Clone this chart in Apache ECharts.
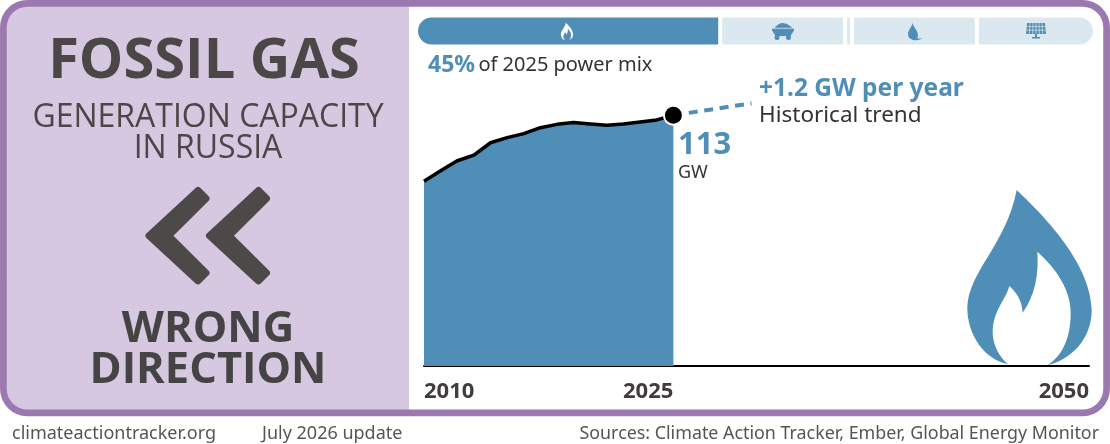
<!DOCTYPE html>
<html><head><meta charset="utf-8">
<style>html,body{margin:0;padding:0;background:#fff}#c{width:1110px;height:444px}</style>
<script src="https://cdn.jsdelivr.net/npm/echarts@6/dist/echarts.min.js"></script></head>
<body><div id="c"></div>
<script>
const years=[2010,2011,2012,2013,2014,2015,2016,2017,2018,2019,2020,2021,2022,2023,2024,2025];
const capacityGW=[83.3,88,92.5,95,100.6,102.9,104.7,107.4,108.9,109.7,109.1,108.5,109.1,110,110.9,113];
const trendYears=[2025,2029.7];
const trendGW=[113,118.4];
const xTicks=[2010,2025,2050];
const mixNames=['Fossil gas','Coal','Other','Hydro','Solar'];
const mixShares=[44.8,18.4,1.0,18.4,17.4];
const BLUE='#4f8fb7',PALE='#dce8f0',DARK='#4b4747',PURPLE='#9b78b0',LILAC='#d6c8e0';
const HEAD='"Open Sans",sans-serif',BODY='"Noto Sans",sans-serif';
const flame='M1016.7 190C1040 212 1091 262 1091.7 310C1091.7 340 1070 360 1047.7 365C1064 355 1070.7 335 1070.7 313C1070.7 285 1050 263 1037.3 251.7C1039 275 1035 295 1022.7 312.7C1022 300 1016 292 1009.3 286C1006 300 992.7 310 992.7 333C992.7 345 1000 358 1008 364C985 360 967.3 335 967.3 308C968 272 1006 245 1016.7 190Z';
const chev=dx=>({type:'polygon',z:3,shape:{points:[[149,235.7],[198,190.5],[206,198.5],[168.5,235.7],[206,272.9],[198,280.9]].map(p=>[p[0]+dx,p[1]])},style:{fill:'#4d4948',stroke:'#4d4948',lineWidth:7,lineJoin:'round'}});
const txt=(x,y,t,size,fill,weight,align,font)=>({type:'text',z:5,x,y,style:{text:t,fontSize:size,fill,fontWeight:weight||400,align:align||'left',verticalAlign:'middle',fontFamily:font||BODY}});
const solarLines=[];
for(let i=1;i<6;i++)solarLines.push({type:'line',z:6,shape:{x1:1027+i*3.0,y1:23,x2:1026+i*3.33,y2:34},style:{stroke:PALE,lineWidth:.7}});
for(let i=1;i<3;i++)solarLines.push({type:'line',z:6,shape:{x1:1026,y1:23+i*3.6,x2:1046,y2:23+i*3.6},style:{stroke:PALE,lineWidth:.7}});
const graphics=[
 {type:'rect',z:-2,silent:true,shape:{x:3,y:3,width:406,height:410,r:[24,0,0,24]},style:{fill:LILAC}},
 {type:'rect',z:10,silent:true,shape:{x:3.4,y:3.4,width:1103.2,height:409.4,r:24},style:{fill:'none',stroke:PURPLE,lineWidth:6.7}},
 txt(204,62,'FOSSIL GAS',56,DARK,700,'center',HEAD),
 txt(208,118,'GENERATION CAPACITY',32,DARK,400,'center',HEAD),
 txt(208,149,'IN RUSSIA',32,DARK,400,'center',HEAD),
 chev(0),chev(60.5),
 txt(208,330,'WRONG',43.5,'#444',700,'center',HEAD),
 txt(208,371,'DIRECTION',43.5,'#444',700,'center',HEAD),
 txt(12,434,'climateactiontracker.org',18,'#555'),
 txt(262,434,'July 2026 update',18,'#555'),
 txt(1099,434,'Sources: Climate Action Tracker, Ember, Global Energy Monitor',17.85,'#555',400,'right'),
 {type:'text',z:5,x:428,y:65,style:{text:'{a|45%} {b|of 2025 power mix}',verticalAlign:'middle',rich:{a:{fontSize:23,fontWeight:700,fill:BLUE,fontFamily:BODY},b:{fontSize:20,fill:'#333',fontFamily:BODY}}}},
 txt(759,89,'+1.2 GW per year',24.5,BLUE,700),
 txt(759,116,'Historical trend',22.5,'#333'),
 txt(678,145,'113',31,BLUE,700),
 txt(678,173,'GW',18,'#333'),
 {type:'circle',z:6,shape:{cx:777,cy:37.5,r:2.5},style:{fill:BLUE}},
 {type:'circle',z:6,shape:{cx:788.5,cy:37.5,r:2.5},style:{fill:BLUE}},
 {type:'line',z:7,shape:{x1:772,y1:28.3,x2:794,y2:28.3},style:{stroke:PALE,lineWidth:.8}},
 {type:'polygon',z:6,shape:{points:[[1027,23],[1045,23],[1046,34],[1026,34]]},style:{fill:BLUE}},
 {type:'rect',z:6,shape:{x:1035,y:34,width:2,height:4},style:{fill:BLUE}},
 {type:'rect',z:6,shape:{x:1032,y:37,width:8,height:1.5},style:{fill:BLUE}},
 ...solarLines
];
const pathEl=(d,fill,extra)=>Object.assign({type:'path',shape:{pathData:d},style:{fill}},extra||{});
const s=.099;
const iconSeries={type:'custom',coordinateSystem:'none',silent:true,z:6,data:[0],renderItem:()=>({type:'group',children:[
  pathEl(flame,BLUE),
  pathEl(flame,'#fff',{x:567-1029.5*s,y:22.7-190*s,scaleX:s,scaleY:s}),
  pathEl('M775 28C775 26 777 26 778 24.5C780 23 783 22.5 785 23.5C787 23.5 789 25 790 26C791 27 792 27 792 28L794 28L794 30.5L790.5 36L775.5 36L772 30.5L772 28Z',BLUE),
  pathEl('M912.5 22.7C913 27 918 30 918 35.5C918 38 916 39.5 913.5 39.5C910 39.5 908 37 908 34C908 30 912 27 912.5 22.7Z',BLUE),
  pathEl('M915 37.5C917 38.5 920 38.7 922 38C920 40.5 914 40.8 912 39.5Z',BLUE)
]})};
const chart=echarts.init(document.getElementById('c'),null,{renderer:'canvas'});
const mixSeries=mixNames.map((n,i)=>({
  name:n,type:'bar',stack:'mix',xAxisIndex:1,yAxisIndex:1,barWidth:31,silent:true,z:2,
  data:[{value:mixShares[i],itemStyle:{
    color:i===0?BLUE:PALE,borderColor:'#fff',borderWidth:2,
    borderRadius:i===0?[15,0,0,15]:i===mixNames.length-1?[0,15,15,0]:0}}]
}));
chart.setOption({
 animation:false,backgroundColor:'#fff',
 grid:[{left:424,width:665,top:56,height:310},{left:416,width:679,top:16,height:30}],
 xAxis:[
  {type:'value',gridIndex:0,min:2010,max:2050,splitLine:{show:false},
   axisLine:{onZero:false,lineStyle:{color:'#000',width:2}},axisTick:{show:false},
   axisLabel:{customValues:xTicks,formatter:v=>String(v),align:'right',alignMinLabel:'left',alignMaxLabel:'right',
     margin:15,fontSize:22,fontWeight:700,color:'#403c3c',fontFamily:BODY,showMinLabel:true,showMaxLabel:true}},
  {type:'value',gridIndex:1,min:0,max:100,show:false}
 ],
 yAxis:[
  {type:'value',gridIndex:0,min:0,max:139.7,show:false},
  {type:'category',gridIndex:1,data:['mix'],show:false}
 ],
 graphic:graphics,
 series:[
  {type:'line',name:'Capacity',data:years.map((y,i)=>[y,capacityGW[i]]),symbol:'none',z:3,
   lineStyle:{color:'#000',width:3.5,join:'round'},areaStyle:{color:BLUE,opacity:1},
   markPoint:{silent:true,symbol:'circle',symbolSize:19,label:{show:false},
     itemStyle:{color:'#000',borderColor:'#fff',borderWidth:2},
     data:[{coord:[years[years.length-1],capacityGW[capacityGW.length-1]]}]}},
  {type:'line',name:'Historical trend',data:trendYears.map((y,i)=>[y,trendGW[i]]),symbol:'none',z:2,
   lineStyle:{color:BLUE,width:4,type:[9,6.6]}},
  ...mixSeries,
  iconSeries
 ]
});
</script></body></html>
